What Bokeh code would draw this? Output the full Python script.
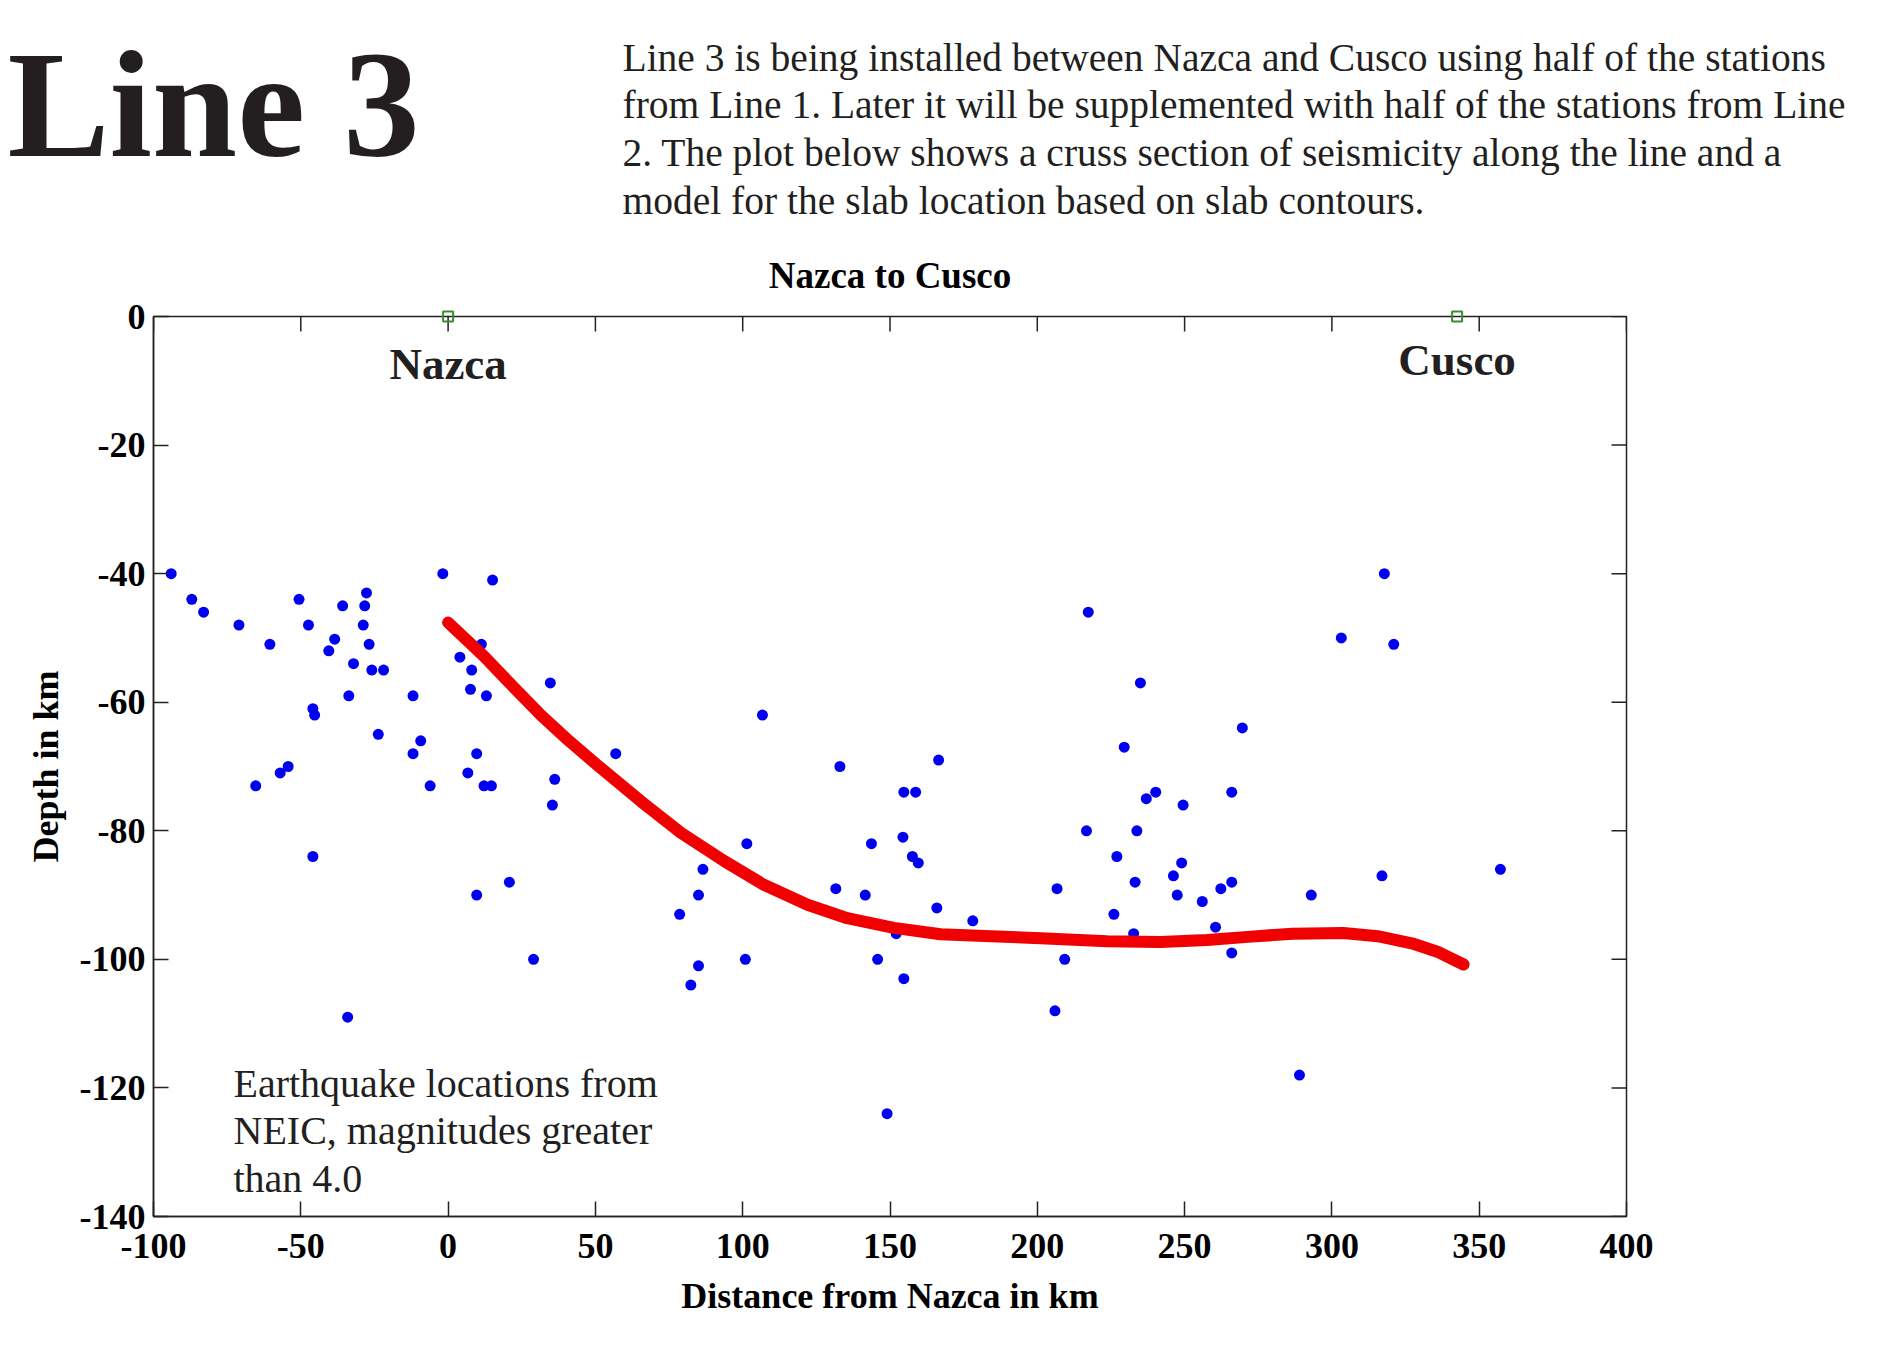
from bokeh.plotting import figure
from bokeh.models import Range1d, FixedTicker, LinearAxis, Label
from bokeh.embed import file_html
from bokeh.resources import INLINE
from bokeh.core.properties import value

# ---------------- data ----------------
quake_dist = [
    -94, -87, -83, -71, -60.5, -50.6, -47.4, -35.8, -27.7, -28.3, -28.8, -38.5, -40.5,
    -26.8, -32.1, -25.9, -21.9, -33.7, -45.9, -45.3, -11.9, -1.8, 15.1, 11.3, 4, 8,
    7.6, 13, 34.7, -23.7, -9.3, -11.9, 9.7, 56.9, -65.3, -57, -54.3, -6.1, 6.7, 12.2,
    14.7, 36.2, 35.4, -45.9, 9.7, 20.8, 29, -34.1,
    106.7, 133, 166.5, 154.7, 158.7, 217.3, 101.4, 86.5, 85, 78.6, 85, 82.4, 100.9,
    143.7, 154.4, 157.6, 159.6, 131.6, 141.6, 165.9, 178.1, 152.1, 145.8, 154.7, 216.7,
    206.7, 209.3, 206, 149,
    317.8, 303.2, 321, 235, 269.6, 229.5, 240.2, 237, 249.5, 266, 233.8, 227, 249,
    233.2, 246.2, 262.3, 266, 247.5, 256, 226, 232.7, 260.5, 266, 293, 317, 289, 357.2,
]
quake_depth = [
    -40, -44, -46, -48, -51, -44, -48, -45, -43, -45, -48, -50.2, -52,
    -51, -54, -55, -55, -59, -61, -62, -59, -40, -41, -51, -53, -55,
    -58, -59, -57, -65, -66, -68, -68, -68, -73, -71, -70, -73, -71, -73,
    -73, -72, -76, -84, -90, -88, -100, -109,
    -62, -70, -69, -74, -74, -46, -82, -86, -90, -93, -101, -104, -100,
    -82, -81, -84, -85, -89, -90, -92, -94, -96, -100, -103, -80,
    -89, -100, -108, -124,
    -40, -50, -51, -57, -64, -67, -74, -75, -76, -74, -80, -84, -85,
    -88, -87, -89, -88, -90, -91, -93, -96, -95, -99, -90, -87, -118, -86,
]
slab_dist = [0, 12.3, 20, 31.5, 40, 50.7, 65.4, 79, 93.7, 107.2, 122, 135.5, 151.3,
             167.2, 184.2, 201.1, 223.7, 241.8, 257.6, 271.5, 286.6, 303.9, 315.5,
             327.1, 336.3, 344.7]
slab_depth = [-47.6, -52.9, -56.6, -62.0, -65.6, -69.8, -75.4, -80.3, -84.7, -88.4, -91.5,
              -93.6, -95.1, -96.1, -96.4, -96.7, -97.2, -97.3, -97.0, -96.5, -96.0,
              -95.9, -96.4, -97.5, -98.9, -100.8]
station_dist = [0, 342.5]
station_depth = [0, 0]
station_names = ["Nazca", "Cusco"]
x_ticks = [-100, -50, 0, 50, 100, 150, 200, 250, 300, 350, 400]
x_tick_labels = ["-100", "-50", "0", "50", "100", "150", "200", "250", "300", "350", "400"]
y_ticks = [-140, -120, -100, -80, -60, -40, -20, 0]
y_tick_labels = ["-140", "-120", "-100", "-80", "-60", "-40", "-20", "0"]

heading = "Line 3"
paragraph_lines = [
    "Line 3 is being installed between Nazca and Cusco using half of the stations",
    "from Line 1.  Later it will be supplemented with half of the stations from Line",
    "2.  The plot below shows a cruss section of seismicity along the line and a",
    "model for the slab location based on slab contours.",
]
note_lines = [
    "Earthquake locations from",
    "NEIC, magnitudes greater",
    "than 4.0",
]
chart_title = "Nazca to Cusco"
x_label = "Distance from Nazca in km"
y_label = "Depth in km"

# ---------------- layout / styles ----------------
INK = "#231f20"
AX = "#222222"
SERIF = "Liberation Serif"
W, H = 1896, 1351
HEAD_H = 226
CHART_H = 1119
FL, FR, FT, FB = 153, 1626, 316, 1216          # frame edges in page pixels
X0, X1, Y0, Y1 = -100, 400, -140, 0


def px_x(px):
    return X0 + (px - FL) * (X1 - X0) / (FR - FL)


def px_y(py):
    return Y1 - (py - FT) * (Y1 - Y0) / (FB - FT)


# ---------------- header (own root, pixel coordinates) ----------------
head = figure(width=W, height=HEAD_H, x_range=Range1d(0, W), y_range=Range1d(HEAD_H, 0),
              x_axis_type=None, y_axis_type=None, output_backend="svg",
              toolbar_location=None, min_border=0, title=None)
head.grid.visible = False
head.outline_line_color = None
head.background_fill_color = "white"
head.border_fill_color = "white"
head.text(x=[7], y=[104], text=[heading], text_font=value(SERIF),
          text_font_style="bold", text_font_size="153px", text_color=INK,
          text_baseline="alphabetic")
head.text(x=[622] * len(paragraph_lines),
          y=[57 + i * 47.7 for i in range(len(paragraph_lines))],
          text=paragraph_lines, text_font=value(SERIF), text_font_size="39.5px",
          text_color=INK, text_baseline="alphabetic")

# ---------------- chart ----------------
top_border = FT - HEAD_H
p = figure(width=W, height=CHART_H, x_range=Range1d(X0, X1), y_range=Range1d(Y0, Y1),
           output_backend="svg", toolbar_location=None,
           min_border_left=FL, min_border_right=W - FR, min_border_top=top_border,
           min_border_bottom=CHART_H - top_border - (FB - FT),
           x_axis_type=None, y_axis_type=None)
p.grid.visible = False
p.outline_line_color = AX
p.outline_line_width = 1.5
p.background_fill_color = "white"
p.border_fill_color = "white"

p.title.text = chart_title
p.title.align = "center"
p.title.text_font = SERIF
p.title.text_font_style = "bold"
p.title.text_font_size = "37px"
p.title.text_color = "black"
p.title.standoff = 42

xb = LinearAxis(ticker=FixedTicker(ticks=x_ticks),
                major_label_overrides=dict(zip(x_ticks, x_tick_labels)))
yl = LinearAxis(ticker=FixedTicker(ticks=y_ticks),
                major_label_overrides=dict(zip(y_ticks, y_tick_labels)))
for ax in (xb, yl):
    ax.major_tick_in = 15
    ax.major_tick_out = 0
    ax.minor_tick_in = 0
    ax.minor_tick_out = 0
    ax.axis_line_color = AX
    ax.axis_line_width = 1.5
    ax.major_tick_line_color = AX
    ax.major_tick_line_width = 1.5
    ax.major_label_text_font = SERIF
    ax.major_label_text_font_style = "bold"
    ax.major_label_text_color = "black"
    ax.major_label_text_font_size = "36px"
    ax.axis_label_text_font = SERIF
    ax.axis_label_text_font_style = "bold"
    ax.axis_label_text_color = "black"
xb.major_label_standoff = 17
yl.major_label_standoff = 8
xb.axis_label = x_label
yl.axis_label = y_label
xb.axis_label_text_font_size = "36px"
yl.axis_label_text_font_size = "36px"
xb.axis_label_standoff = 15
yl.axis_label_standoff = 11
p.add_layout(xb, "below")
p.add_layout(yl, "left")

# inward ticks on the top and right frame edges
tick_len_y = 15 * (Y1 - Y0) / (FB - FT)
tick_len_x = 15 * (X1 - X0) / (FR - FL)
p.segment(x0=x_ticks, y0=[Y1] * len(x_ticks), x1=x_ticks, y1=[Y1 - tick_len_y] * len(x_ticks),
          line_color=AX, line_width=1.5)
p.segment(x0=[X1] * len(y_ticks), y0=y_ticks, x1=[X1 - tick_len_x] * len(y_ticks), y1=y_ticks,
          line_color=AX, line_width=1.5)

# data marks
p.scatter(quake_dist, quake_depth, size=11, fill_color="#0000f0", line_color=None)
p.line(slab_dist, slab_depth, line_width=12, line_color="#f00000",
       line_cap="round", line_join="round")
p.scatter(station_dist, station_depth, marker="square", size=10, fill_color=None,
          line_color="#3a8a3a", line_width=2, level="overlay")

# station names
for sx, name, base in zip(station_dist, station_names, [380, 376]):
    p.add_layout(Label(x=sx, y=px_y(base - 0.37 * 45), text=name, text_align="center",
                       text_baseline="alphabetic", text_font=SERIF,
                       text_font_style="bold", text_font_size="45px", text_color=INK))

# note inside the chart
for i, line in enumerate(note_lines):
    p.add_layout(Label(x=px_x(233), y=px_y(1097.6 + i * 47.5 - 0.37 * 40), text=line,
                       text_baseline="alphabetic", text_font=SERIF,
                       text_font_size="40px", text_color=INK))

open("out.html", "w").write(file_html([head, p], INLINE))
